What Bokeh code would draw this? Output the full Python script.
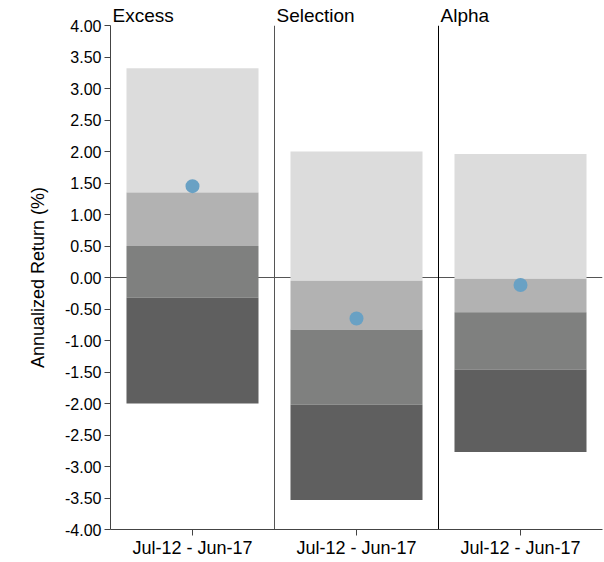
from bokeh.plotting import figure
from bokeh.models import FixedTicker, PrintfTickFormatter, Range1d, ColumnDataSource, LinearAxis
from bokeh.embed import file_html
from bokeh.resources import INLINE

categories = ["Excess", "Selection", "Alpha"]
period_label = "Jul-12 - Jun-17"
p95 = [3.32, 2.00, 1.96]
p75 = [1.35, -0.05, -0.02]
p50 = [0.50, -0.83, -0.55]
p25 = [-0.32, -2.02, -1.46]
p5 = [-2.00, -3.53, -2.77]
manager = [1.45, -0.65, -0.12]
y_ticks = [-4.0, -3.5, -3.0, -2.5, -2.0, -1.5, -1.0, -0.5, 0.0, 0.5, 1.0, 1.5, 2.0, 2.5, 3.0, 3.5, 4.0]

band_colors = ["#dcdcdc", "#b2b2b2", "#7f807f", "#5f5f5f"]
FONT = "Liberation Sans"
TITLE_PX = 19
# approximate em widths of titles (Liberation Sans) to left-align them at panel edges
title_em = [3.223, 4.113, 2.557]
panel_px = 164.0
title_left_pad = 2.0

xc = [i + 0.5 for i in range(len(categories))]
title_x = [i + (title_left_pad + w * TITLE_PX / 2) / panel_px for i, w in enumerate(title_em)]

p = figure(width=604, height=560, output_backend="svg", toolbar_location=None,
           x_range=Range1d(0, 3), y_range=Range1d(-4, 4),
           min_border_left=110, min_border_top=25, min_border_right=2, min_border_bottom=30)
p.outline_line_color = None
p.xgrid.visible = False
p.ygrid.visible = False

# zero line
p.segment(x0=[0], y0=[0], x1=[3], y1=[0], line_color="#555555", line_width=1)

# stacked bands
bands = [(p75, p95), (p50, p75), (p25, p50), (p5, p25)]
for (lo, hi), c in zip(bands, band_colors):
    src = ColumnDataSource(dict(x=xc, bottom=lo, top=hi))
    p.vbar(x="x", bottom="bottom", top="top", width=0.805, source=src,
           fill_color=c, line_color=None)

# dots
p.scatter(x=xc, y=manager, size=14, fill_color="#69a1c4", line_color=None)

# separators
p.segment(x0=[1, 2], y0=[-4, -4], x1=[1, 2], y1=[4, 4], line_color=["#555555", "#000000"], line_width=1)

# bottom axis
bottom_axis = p.below[0]
bottom_axis.ticker = FixedTicker(ticks=xc)
bottom_axis.major_label_overrides = {x: period_label for x in xc}

# left axis
left_axis = p.left[0]
left_axis.ticker = FixedTicker(ticks=y_ticks)
left_axis.formatter = PrintfTickFormatter(format="%.2f")
left_axis.axis_label = "Annualized Return (%)"

for ax in (bottom_axis, left_axis):
    ax.axis_line_color = "#444444"
    ax.major_tick_line_color = "#444444"
    ax.minor_tick_line_color = None
    ax.major_tick_out = 6
    ax.major_tick_in = 0
    ax.major_label_text_font = FONT
    ax.major_label_text_color = "#000000"
    ax.axis_label_text_font = FONT
    ax.axis_label_text_font_size = "18px"
    ax.axis_label_text_font_style = "normal"
    ax.axis_label_text_color = "#000000"
bottom_axis.major_label_text_font_size = "18px"
left_axis.major_label_text_font_size = "16px"
left_axis.major_label_standoff = 3
bottom_axis.major_label_standoff = 2
left_axis.axis_label_standoff = 14

# panel titles as a top axis
top_axis = LinearAxis(ticker=FixedTicker(ticks=title_x),
                      major_label_overrides={x: n for x, n in zip(title_x, categories)})
top_axis.axis_line_color = None
top_axis.major_tick_line_color = None
top_axis.minor_tick_line_color = None
top_axis.major_tick_out = 0
top_axis.major_tick_in = 0
top_axis.major_label_standoff = 0
top_axis.major_label_text_font = FONT
top_axis.major_label_text_font_size = f"{TITLE_PX}px"
top_axis.major_label_text_color = "#000000"
p.add_layout(top_axis, "above")

open("out.html", "w").write(file_html(p, INLINE))
